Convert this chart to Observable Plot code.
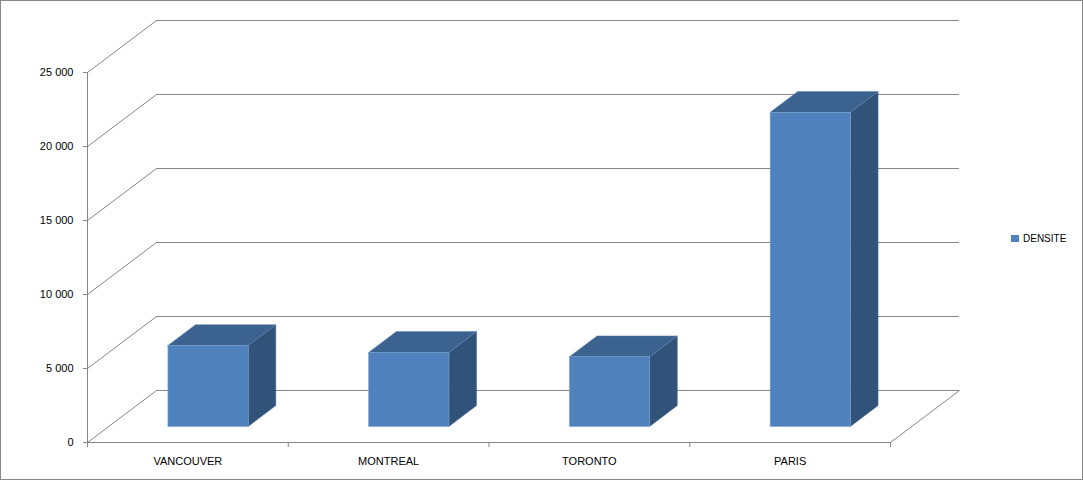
<!DOCTYPE html>
<html>
<head>
<meta charset="utf-8">
<script src="https://cdn.jsdelivr.net/npm/d3@7"></script>
<script src="https://cdn.jsdelivr.net/npm/@observablehq/plot@0.6"></script>
<style>
  html, body { margin: 0; padding: 0; background: white; }
  #wrap { position: relative; width: 1083px; height: 480px; overflow: hidden; }
  #wrap svg { position: absolute; left: 0; top: 0; }
  #border { position: absolute; left: 0; top: 0; width: 1081px; height: 478px; border: 1px solid #868686; pointer-events: none; }
  #legend { position: absolute; left: 1011px; top: 233px; font: 10px "Liberation Sans", Arial, sans-serif; color: #000; display: flex; align-items: center; }
  #legend .sw { width: 8px; height: 7px; background: #4f81bd; margin-right: 4px; }
</style>
</head>
<body>
<div id="wrap">
  <div id="border"></div>
  <div id="legend"><span class="sw"></span><span>DENSITE</span></div>
</div>
<script>
// ---- data ----
const categories = ["VANCOUVER", "MONTREAL", "TORONTO", "PARIS"];
const densite = [5470, 5000, 4710, 21220];
const yTicks = [0, 5000, 10000, 15000, 20000, 25000];
const seriesName = "DENSITE";

// ---- oblique projection parameters (depth vector in data units) ----
const DX = 69 / 200.75;          // depth shift along x (category units)
const DY = 52 / 370 * 25000;     // depth shift along y (value units)
const f1 = 0.3, f2 = 0.7;        // bar depth start/end
const b1 = 0.3, b2 = 0.7;        // bar x start/end inside its category

const fmt = d3.formatLocale({decimal: ",", thousands: "\u00a0", grouping: [3], currency: ["", ""]}).format(",d");

const bars = categories.map((c, i) => ({c, i, v: densite[i]}));

const frontFaces = bars.map(b => ({
  c: b.c,
  x1: b.i + b1 + f1 * DX, x2: b.i + b2 + f1 * DX,
  y1: f1 * DY, y2: b.v + f1 * DY
}));
const topFaces = bars.flatMap(b => [f1, f2].map(f => ({
  c: b.c, y: b.v + f * DY, x1: b.i + b1 + f * DX, x2: b.i + b2 + f * DX
})));
const sideFaces = bars.flatMap(b => [f1, f2].map(f => ({
  c: b.c, x: b.i + b2 + f * DX, y1: f * DY, y2: b.v + f * DY
})));

const grid = "#868686";
const n = categories.length;

const chart = Plot.plot({
  width: 1083,
  height: 480,
  marginLeft: 87,
  marginRight: 193,
  marginTop: 72,
  marginBottom: 38,
  style: {fontFamily: "'Liberation Sans', Arial, sans-serif", fontSize: "11px", background: "transparent", color: "#000"},
  x: {type: "linear", domain: [0, n], axis: null},
  y: {type: "linear", domain: [0, 25000], axis: null},
  marks: [
    // back wall gridlines
    Plot.ruleY(yTicks, {y: t => t + DY, x1: DX, x2: n + DX, stroke: grid, strokeWidth: 1}),
    // left wall diagonals
    Plot.link(yTicks, {x1: 0, y1: t => t, x2: DX, y2: t => t + DY, stroke: grid, strokeWidth: 1}),
    // right floor diagonal
    Plot.link([0], {x1: n, y1: 0, x2: n + DX, y2: DY, stroke: grid, strokeWidth: 1}),
    // front vertical axis line
    Plot.ruleX([0], {y1: 0, y2: 25000, stroke: grid, strokeWidth: 1}),
    // front floor line
    Plot.ruleY([0], {x1: 0, x2: n, stroke: grid, strokeWidth: 1}),
    // axes
    Plot.axisY({ticks: yTicks, tickFormat: fmt, tickSize: 4, tickPadding: 10, stroke: grid, fill: "#000", anchor: "left"}),
    Plot.axisX({ticks: d3.range(n + 1), tickFormat: () => "", tickSize: 5, stroke: grid, anchor: "bottom"}),
    // category labels
    Plot.text(bars, {x: d => d.i + 0.5, y: 0, text: d => d.c, dy: 19, fill: "#000"}),
    // bars: side, top, front
    Plot.areaY(sideFaces, {x: "x", y1: "y1", y2: "y2", z: "c", fill: "#325379", stroke: "#4a6f9c", strokeWidth: 0.5, curve: "linear"}),
    Plot.areaX(topFaces, {y: "y", x1: "x1", x2: "x2", z: "c", fill: "#3c6290", stroke: "#5a80b0", strokeWidth: 0.5, curve: "linear"}),
    Plot.rect(frontFaces, {x1: "x1", x2: "x2", y1: "y1", y2: "y2", fill: "#4f81bd", stroke: "#7b9fcc", strokeWidth: 0.6})
  ]
});

document.getElementById("wrap").prepend(chart);
</script>
</body>
</html>
